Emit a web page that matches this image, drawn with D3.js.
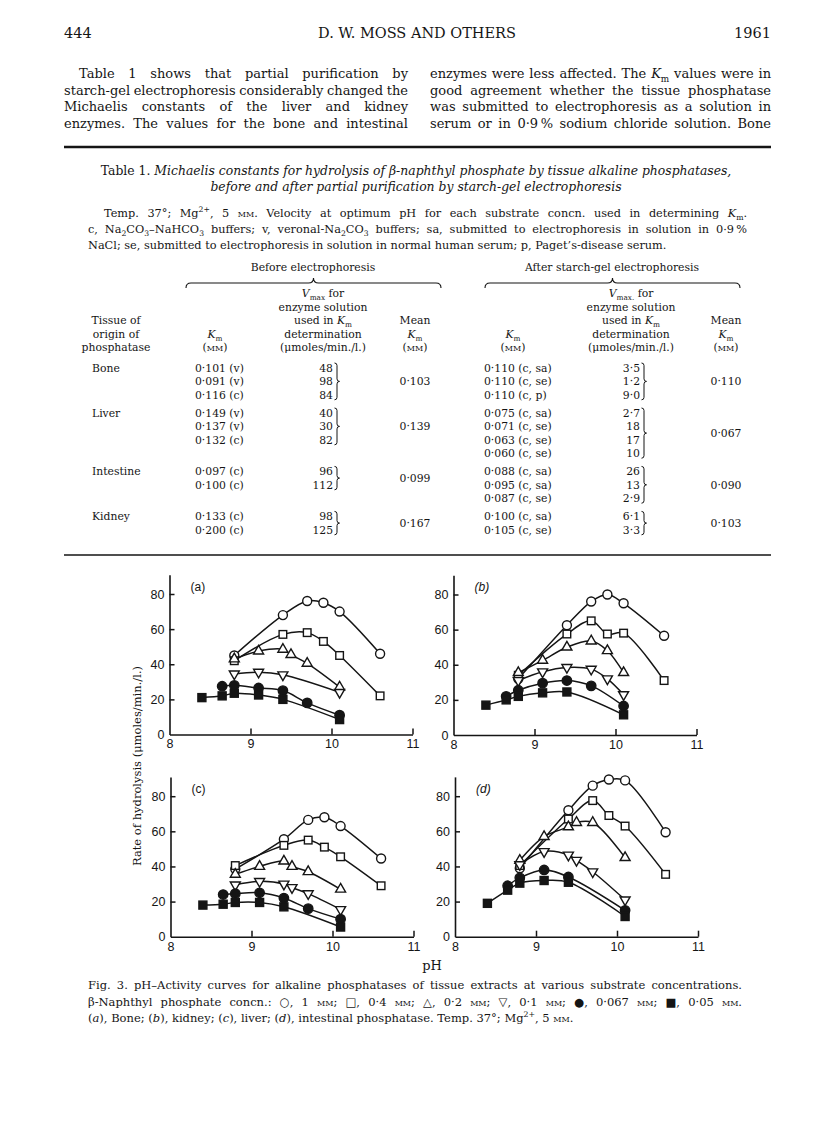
<!DOCTYPE html>
<html><head><meta charset="utf-8">
<script src="https://cdn.jsdelivr.net/npm/d3@7"></script>
<style>
html,body{margin:0;padding:0;background:#fff;}
svg{display:block;}
</style></head><body>
<svg id="page" width="816" height="1138"></svg>
<script>
// ---------------- DATA ----------------
const seriesNames = ["1 mM", "0.4 mM", "0.2 mM", "0.1 mM", "0.067 mM", "0.05 mM"];
const xTicks = [8, 9, 10, 11];
const yTicks = [0, 20, 40, 60, 80];
const panelLabels = ["(a)", "(b)", "(c)", "(d)"];

// (a) Bone
const bonePH = [
  [8.8, 9.4, 9.7, 9.9, 10.1, 10.6],
  [8.8, 9.4, 9.7, 9.9, 10.1, 10.6],
  [8.8, 9.1, 9.4, 9.5, 9.7, 10.1],
  [8.8, 9.1, 9.4, 10.1],
  [8.65, 8.8, 9.1, 9.4, 9.7, 10.1],
  [8.4, 8.65, 8.8, 9.1, 9.4, 10.1]
];
const boneRate = [
  [45, 68, 76, 75, 70, 46],
  [42, 57, 58, 53, 45, 22],
  [43, 47.5, 48.5, 45.5, 40.5, 27],
  [34.5, 35.5, 34, 24],
  [27.5, 28, 26.5, 25, 18, 11],
  [21, 22, 23.5, 22.5, 20, 8.5]
];
// (b) Kidney
const kidneyPH = [
  [8.8, 9.4, 9.7, 9.9, 10.1, 10.6],
  [8.8, 9.4, 9.7, 9.9, 10.1, 10.6],
  [8.8, 9.1, 9.4, 9.7, 9.9, 10.1],
  [8.8, 9.1, 9.4, 9.7, 9.9, 10.1],
  [8.65, 8.8, 9.1, 9.4, 9.7, 10.1],
  [8.4, 8.65, 8.8, 9.1, 9.4, 10.1]
];
const kidneyRate = [
  [32, 62.5, 76, 80, 75, 56.5],
  [34, 57.5, 65, 57.5, 58, 31],
  [35.5, 42.5, 50, 53.5, 48, 35.5],
  [31, 36, 38.5, 37.5, 32, 23],
  [22, 25.5, 29.5, 31, 28, 16.5],
  [17, 20, 22, 24, 24.5, 11.5]
];
// (c) Liver
const liverPH = [
  [8.8, 9.4, 9.7, 9.9, 10.1, 10.6],
  [8.8, 9.4, 9.7, 9.9, 10.1, 10.6],
  [8.8, 9.1, 9.4, 9.5, 9.7, 10.1],
  [8.8, 9.1, 9.4, 9.5, 9.7, 10.1],
  [8.65, 8.8, 9.1, 9.4, 9.7, 10.1],
  [8.4, 8.65, 8.8, 9.1, 9.4, 10.1]
];
const liverRate = [
  [38.5, 55.5, 66.5, 68, 63, 44.5],
  [40.5, 52, 55, 51, 45.5, 29],
  [35.5, 40, 43, 40, 37, 27],
  [29.5, 31.5, 30, 28, 24.5, 15.5],
  [24, 24.5, 25, 22, 16, 10],
  [18, 18.5, 19.5, 19.5, 17, 5.5]
];
// (d) Intestine
const intestinePH = [
  [8.8, 9.4, 9.7, 9.9, 10.1, 10.6],
  [8.8, 9.4, 9.7, 9.9, 10.1, 10.6],
  [8.8, 9.1, 9.4, 9.5, 9.7, 10.1],
  [8.8, 9.1, 9.4, 9.5, 9.7, 10.1],
  [8.65, 8.8, 9.1, 9.4, 10.1],
  [8.4, 8.65, 8.8, 9.1, 9.4, 10.1]
];
const intestineRate = [
  [39, 72, 86, 89.5, 89, 59.5],
  [40.5, 67, 77.5, 69, 63, 35.5],
  [43.5, 57, 62.5, 65, 65, 45],
  [41, 48.5, 46.5, 43.5, 37, 21],
  [29, 33.5, 38, 34, 15],
  [19, 26.5, 30.5, 32, 31, 11.5]
];

// Table 1
const tissues = ["Bone", "Liver", "Intestine", "Kidney"];
const beforeKm = [["0·101 (v)", "0·091 (v)", "0·116 (c)"], ["0·149 (v)", "0·137 (v)", "0·132 (c)"], ["0·097 (c)", "0·100 (c)"], ["0·133 (c)", "0·200 (c)"]];
const beforeVmax = [["48", "98", "84"], ["40", "30", "82"], ["96", "112"], ["98", "125"]];
const beforeMean = ["0·103", "0·139", "0·099", "0·167"];
const afterKm = [["0·110 (c, sa)", "0·110 (c, se)", "0·110 (c, p)"], ["0·075 (c, sa)", "0·071 (c, se)", "0·063 (c, se)", "0·060 (c, se)"], ["0·088 (c, sa)", "0·095 (c, sa)", "0·087 (c, se)"], ["0·100 (c, sa)", "0·105 (c, se)"]];
const afterVmax = [["3·5", "1·2", "9·0"], ["2·7", "18", "17", "10"], ["26", "13", "2·9"], ["6·1", "3·3"]];
const afterMean = ["0·110", "0·067", "0·090", "0·103"];

// ---------------- HELPERS ----------------
const svg = d3.select('#page');
const SERIF = "'DejaVu Serif', 'Liberation Serif', serif";
const SANS = "'Liberation Sans', Arial, Helvetica, sans-serif";
const INK = "#151515";

function rich(text, str, fs) {
  const re = /(\*[^*]+\*|_\{[^}]*\}|\^\{[^}]*\}|~[^~]+~)/;
  const parts = str.split(re).filter(p => p && p.length);
  let shift = 0;
  parts.forEach(p => {
    const t = text.append('tspan');
    let s = 0, content = p;
    if (/^\*[^*]+\*$/.test(p)) { t.attr('font-style', 'italic'); content = p.slice(1, -1); }
    else if (p.startsWith('_{')) { t.attr('font-size', (fs * 0.68) + 'px'); content = p.slice(2, -1); s = fs * 0.28; }
    else if (p.startsWith('^{')) { t.attr('font-size', (fs * 0.68) + 'px'); content = p.slice(2, -1); s = -fs * 0.4; }
    else if (/^~[^~]+~$/.test(p)) { t.style('font-variant', 'small-caps'); content = p.slice(1, -1); }
    t.text(content);
    if (s !== shift) t.attr('dy', s - shift);
    shift = s;
  });
  return text;
}
function label(g, str, x, y, fs, anchor = 'start', extra = {}) {
  const t = g.append('text').attr('x', x).attr('y', y)
    .attr('font-size', fs + 'px').attr('font-family', extra.family || SERIF)
    .attr('text-anchor', anchor).attr('fill', INK);
  if (extra.italic) t.attr('font-style', 'italic');
  if (extra.weight) t.attr('font-weight', extra.weight);
  rich(t, str, fs);
  return t;
}
function justify(g, str, x0, x1, y, fs, extra = {}) {
  const words = str.split(' ').filter(w => w.length);
  const grp = g.append('g');
  const nodes = words.map(w => label(grp, w, 0, y, fs, 'start', extra));
  const widths = nodes.map(n => n.node().getComputedTextLength());
  const sum = d3.sum(widths);
  const minGap = fs * 0.25;
  let gap = (x1 - x0 - sum) / (words.length - 1);
  let scale = 1;
  if (gap < minGap) { gap = minGap; scale = (x1 - x0) / (sum + minGap * (words.length - 1)); }
  let cx = 0;
  nodes.forEach((n, i) => { n.attr('x', cx); cx += widths[i] + gap; });
  grp.attr('transform', `translate(${x0},0) scale(${scale},1)`);
}
function hbrace(g, x0, x1, y) {
  const m = (x0 + x1) / 2, r = 5;
  g.append('path').attr('d',
    `M${x0},${y + r} Q${x0},${y} ${x0 + r},${y} L${m - r},${y} Q${m},${y} ${m},${y - r} Q${m},${y} ${m + r},${y} L${x1 - r},${y} Q${x1},${y} ${x1},${y + r}`)
    .attr('fill', 'none').attr('stroke', INK).attr('stroke-width', 1.1);
}
function vbrace(g, x, y0, y1) {
  const m = (y0 + y1) / 2, r = 2.5;
  g.append('path').attr('d',
    `M${x},${y0} Q${x + r},${y0} ${x + r},${y0 + r} L${x + r},${m - r} Q${x + r},${m} ${x + 2 * r},${m} Q${x + r},${m} ${x + r},${m + r} L${x + r},${y1 - r} Q${x + r},${y1} ${x},${y1}`)
    .attr('fill', 'none').attr('stroke', INK).attr('stroke-width', 1);
}

// ---------------- PAGE TEXT ----------------
const L = 64, R = 771;
const headG = svg.append('g');
label(headG, "444", L, 38, 14.5);
label(headG, "D. W. MOSS AND OTHERS", 417, 38, 14.5, 'middle');
label(headG, "1961", R, 38, 14.5, 'end');

const pfs = 13;
const leftLines = [
  "Table 1 shows that partial purification by",
  "starch-gel electrophoresis considerably changed the",
  "Michaelis constants of the liver and kidney",
  "enzymes. The values for the bone and intestinal"
];
const rightLines = [
  "enzymes were less affected. The *K*_{m} values were in",
  "good agreement whether the tissue phosphatase",
  "was submitted to electrophoresis as a solution in",
  "serum or in 0·9\u2009% sodium chloride solution. Bone"
];
leftLines.forEach((s, i) => justify(headG, s, i === 0 ? 79 : L, 408, 78 + 16.6 * i, pfs));
rightLines.forEach((s, i) => justify(headG, s, 430, R, 78 + 16.6 * i, pfs));
headG.append('line').attr('x1', L).attr('x2', R).attr('y1', 147).attr('y2', 147).attr('stroke', INK).attr('stroke-width', 2.4);

// Table title & caption
const tb = svg.append('g');
label(tb, "Table 1. *Michaelis constants for hydrolysis of β-naphthyl phosphate by tissue alkaline phosphatases,*", 416, 174.5, 12.4, 'middle');
label(tb, "*before and after partial purification by starch-gel electrophoresis*", 416, 191, 12.4, 'middle');
const cfs = 11.3;
justify(tb, "Temp. 37°; Mg^{2+}, 5 ~mm~. Velocity at optimum pH for each substrate concn. used in determining *K*_{m}.", 104, 747, 217, cfs);
justify(tb, "c, Na_{2}CO_{3}–NaHCO_{3} buffers; v, veronal-Na_{2}CO_{3} buffers; sa, submitted to electrophoresis in solution in 0·9\u2009%", 88, 747, 233, cfs);
label(tb, "NaCl; se, submitted to electrophoresis in solution in normal human serum; p, Paget’s-disease serum.", 88, 249, cfs);

// Table header
const tfs = 10.8;
label(tb, "Before electrophoresis", 313, 271, tfs, 'middle');
label(tb, "After starch-gel electrophoresis", 612, 271, tfs, 'middle');
hbrace(tb, 186, 441, 283);
hbrace(tb, 485, 740, 283);
const hy = [297, 310.5, 324, 337.5, 351];
label(tb, "Tissue of", 116, hy[2], tfs, 'middle');
label(tb, "origin of", 116, hy[3], tfs, 'middle');
label(tb, "phosphatase", 116, hy[4], tfs, 'middle');
[[215, 323, 415, "*V*_{max} for"], [513, 631, 726, "*V*_{max.} for"]].forEach(([kx, vx, mx, vt]) => {
  label(tb, "*K*_{m}", kx, hy[3], tfs, 'middle');
  label(tb, "(~mm~)", kx, hy[4], tfs, 'middle');
  label(tb, vt, vx, hy[0], tfs, 'middle');
  label(tb, "enzyme solution", vx, hy[1], tfs, 'middle');
  label(tb, "used in *K*_{m}", vx, hy[2], tfs, 'middle');
  label(tb, "determination", vx, hy[3], tfs, 'middle');
  label(tb, "(μmoles/min./l.)", vx, hy[4], tfs, 'middle');
  label(tb, "Mean", mx, hy[2], tfs, 'middle');
  label(tb, "*K*_{m}", mx, hy[3], tfs, 'middle');
  label(tb, "(~mm~)", mx, hy[4], tfs, 'middle');
});

// Table body
const rowStep = 13.4, groupGap = 4.8;
let yc = 368;
tissues.forEach((tname, gi) => {
  const n = Math.max(beforeKm[gi].length, afterKm[gi].length);
  const ys = d3.range(n).map(k => yc + k * rowStep);
  label(tb, tname, 92, ys[0] + 4, tfs);
  const blocks = [
    {km: beforeKm[gi], v: beforeVmax[gi], mean: beforeMean[gi], kx: 195, vx: 333, mx: 415},
    {km: afterKm[gi], v: afterVmax[gi], mean: afterMean[gi], kx: 484, vx: 640, mx: 726}
  ];
  blocks.forEach(b => {
    b.km.forEach((s, k) => label(tb, s, b.kx, ys[k] + 4, tfs));
    b.v.forEach((s, k) => label(tb, s, b.vx, ys[k] + 4, tfs, 'end'));
    const yFirst = ys[0] - 5, yLast = ys[b.v.length - 1] + 5;
    vbrace(tb, b.vx + 1.5, yFirst, yLast);
    const ym = (ys[0] + ys[b.v.length - 1]) / 2;
    label(tb, b.mean, b.mx, ym + 4, tfs, 'middle');
  });
  yc = ys[n - 1] + rowStep + groupGap;
});
tb.append('line').attr('x1', L).attr('x2', R).attr('y1', 555).attr('y2', 555).attr('stroke', INK).attr('stroke-width', 1.6);

// ---------------- CHART ----------------
const panelDefs = [
  {ph: bonePH, rate: boneRate, italic: false, x0: 169.5, y0: 734.5},
  {ph: kidneyPH, rate: kidneyRate, italic: true, x0: 453.5, y0: 735},
  {ph: liverPH, rate: liverRate, italic: false, x0: 170.5, y0: 936.7},
  {ph: intestinePH, rate: intestineRate, italic: true, x0: 455, y0: 936.7}
];
const PW = 243, H80 = 140.5, YTOP = 91;
const markerTypes = ["circle", "square", "triangle", "invtri", "fcircle", "fsquare"];

function drawMarker(g, type, cx, cy) {
  const sw = 1.4;
  if (type === 'circle' || type === 'fcircle') {
    g.append('circle').attr('cx', cx).attr('cy', cy).attr('r', type === 'circle' ? 4.5 : 4.7)
      .attr('fill', type === 'circle' ? '#fff' : INK).attr('stroke', INK).attr('stroke-width', sw);
  } else if (type === 'square' || type === 'fsquare') {
    const s = type === 'square' ? 7.6 : 8;
    g.append('rect').attr('x', cx - s / 2).attr('y', cy - s / 2).attr('width', s).attr('height', s)
      .attr('fill', type === 'square' ? '#fff' : INK).attr('stroke', INK).attr('stroke-width', sw);
  } else {
    const s = 10, h = s * 0.866, dir = type === 'triangle' ? 1 : -1;
    const pts = [[cx, cy - dir * 2 * h / 3], [cx - s / 2, cy + dir * h / 3], [cx + s / 2, cy + dir * h / 3]];
    g.append('path').attr('d', 'M' + pts.map(p => p.join(',')).join('L') + 'Z')
      .attr('fill', '#fff').attr('stroke', INK).attr('stroke-width', sw).attr('stroke-linejoin', 'miter');
  }
}

panelDefs.forEach((p, pi) => {
  const x = d3.scaleLinear().domain([8, 11]).range([p.x0, p.x0 + PW]);
  const y = d3.scaleLinear().domain([0, 80]).range([p.y0, p.y0 - H80]);
  const yAx = d3.scaleLinear().domain([0, YTOP]).range([p.y0, y(YTOP)]);
  const g = svg.append('g');

  const xa = g.append('g').attr('transform', `translate(0,${p.y0})`)
    .call(d3.axisBottom(x).tickValues(xTicks).tickSizeInner(-6).tickSizeOuter(0).tickPadding(5).tickFormat(d3.format('d')));
  const ya = g.append('g').attr('transform', `translate(${p.x0},0)`)
    .call(d3.axisLeft(yAx).tickValues(yTicks).tickSizeInner(-5).tickSizeOuter(0).tickPadding(5).tickFormat(d3.format('d')));
  [xa, ya].forEach(a => {
    a.select('.domain').attr('stroke', INK).attr('stroke-width', 1.6);
    a.selectAll('.tick line').attr('stroke', INK).attr('stroke-width', 1.5);
    a.selectAll('.tick text').attr('font-family', SANS).attr('font-size', '12.5px').attr('fill', INK);
  });
  xa.selectAll('.tick').filter(d => d === 8).select('line').remove();
  ya.selectAll('.tick').filter(d => d === 0).select('line').remove();

  label(g, panelLabels[pi], p.x0 + 21, p.y0 - 144, 12, 'start', {family: SANS, italic: p.italic});

  const line = d3.line().x(d => x(d[0])).y(d => y(d[1])).curve(d3.curveCatmullRom.alpha(0.5));
  const series = p.ph.map((arr, si) => arr.map((v, k) => [v, p.rate[si][k]]));
  series.forEach(s => {
    g.append('path').attr('d', line(s)).attr('fill', 'none').attr('stroke', INK).attr('stroke-width', 1.5);
  });
  series.forEach((s, si) => s.forEach(d => drawMarker(g, markerTypes[si], x(d[0]), y(d[1]))));
});

// axis titles
const at = svg.append('g');
label(at, "Rate of hydrolysis (μmoles/min./l.)", 0, 0, 11.5).attr('transform', 'translate(141,766) rotate(-90)').attr('text-anchor', 'middle');
label(at, "pH", 432, 970, 13, 'middle');

// Figure caption
const ffs = 11.5;
justify(at, "Fig. 3.  pH–Activity curves for alkaline phosphatases of tissue extracts at various substrate concentrations.", 88, 742, 989, ffs);
justify(at, "β-Naphthyl phosphate concn.: ○, 1 ~mm~; □, 0·4 ~mm~; △, 0·2 ~mm~; ▽, 0·1 ~mm~; ●, 0·067 ~mm~; ■, 0·05 ~mm~.", 88, 742, 1005.5, ffs);
label(at, "(*a*), Bone; (*b*), kidney; (*c*), liver; (*d*), intestinal phosphatase. Temp. 37°; Mg^{2+}, 5 ~mm~.", 88, 1022, ffs);
</script></body></html>
